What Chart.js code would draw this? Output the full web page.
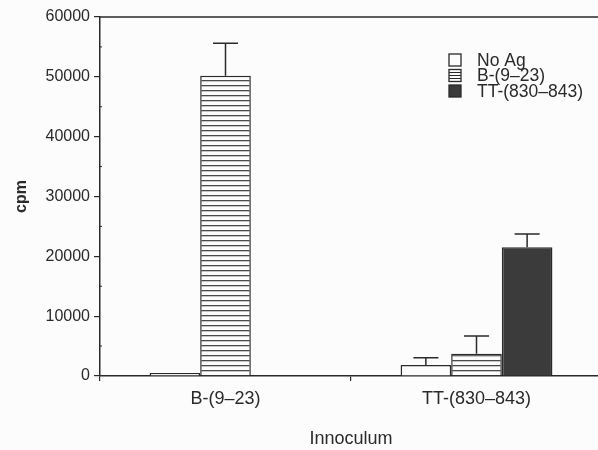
<!DOCTYPE html>
<html>
<head>
<meta charset="utf-8">
<script src="https://cdn.jsdelivr.net/npm/chart.js@4"></script>
<style>
  html, body { margin: 0; padding: 0; background: #fcfcfc; overflow: hidden; }
  #wrap { width: 600px; height: 450px; }
</style>
</head>
<body>
<div id="wrap"><canvas id="c" width="602" height="450"></canvas></div>
<script>
// ---- data ----
const categories = ['B-(9\u201323)', 'TT-(830\u2013843)'];
const seriesNames = ['No Ag', 'B-(9\u201323)', 'TT-(830\u2013843)'];
const noAg = [500, 1850];
const noAgUpper = [null, 3050];
const b923 = [50200, 3700];
const b923Upper = [55600, 6700];
const tt830 = [150, 21500];
const tt830Upper = [null, 23750];
const yTicks = [0, 10000, 20000, 30000, 40000, 50000, 60000];

const INK = '#2a2a2a';
const DARK = '#3b3b3b';
const FONT = '"Liberation Sans", Arial, sans-serif';

function hatchPattern(ctx) {
  const p = document.createElement('canvas');
  p.width = 8; p.height = 5;
  const g = p.getContext('2d');
  g.fillStyle = '#fcfcfc';
  g.fillRect(0, 0, 8, 5);
  g.fillStyle = '#4a4a4a';
  g.fillRect(0, 0, 8, 1.3);
  return ctx.createPattern(p, 'repeat');
}

const canvas = document.getElementById('c');
const ctx = canvas.getContext('2d');
const hatch = hatchPattern(ctx);

const errorBars = {
  id: 'errorBars',
  afterDatasetsDraw(chart) {
    const c = chart.ctx;
    const ys = chart.scales.y;
    c.save();
    c.strokeStyle = INK;
    c.lineWidth = 1.5;
    chart.data.datasets.forEach((ds, di) => {
      const meta = chart.getDatasetMeta(di);
      (ds.upper || []).forEach((u, i) => {
        if (u == null) return;
        const el = meta.data[i];
        const yT = ys.getPixelForValue(u);
        c.beginPath();
        c.moveTo(el.x, el.y);
        c.lineTo(el.x, yT);
        c.moveTo(el.x - 12.5, yT);
        c.lineTo(el.x + 12.5, yT);
        c.stroke();
      });
    });
    c.restore();
  }
};

const frame = {
  id: 'frame',
  afterDraw(chart) {
    const c = chart.ctx;
    const a = chart.chartArea;
    const ys = chart.scales.y;
    c.save();
    c.strokeStyle = INK;
    c.lineWidth = 1.5;
    c.beginPath();
    c.moveTo(a.left, a.top);
    c.lineTo(a.right, a.top);
    c.stroke();
    // minor ticks
    c.lineWidth = 1;
    for (let i = 0; i < yTicks.length - 1; i++) {
      const v = (yTicks[i] + yTicks[i + 1]) / 2;
      const py = ys.getPixelForValue(v);
      c.beginPath();
      c.moveTo(a.left - 1, py);
      c.lineTo(a.left + 2, py);
      c.stroke();
    }
    // legend
    const x0 = 449, size = 12, rows = [60, 75.5, 91];
    c.font = '17.5px ' + FONT;
    c.textBaseline = 'middle';
    chart.data.datasets.forEach((ds, i) => {
      const yc = rows[i];
      const yt = yc - size / 2;
      if (i === 2) {
        c.fillStyle = DARK;
        c.fillRect(x0, yt, size, size);
      } else {
        c.fillStyle = '#fcfcfc';
        c.fillRect(x0, yt, size, size);
        if (i === 1) {
          c.beginPath();
          for (let k = 1; k < 4; k++) {
            c.moveTo(x0, yt + k * 3);
            c.lineTo(x0 + size, yt + k * 3);
          }
          c.lineWidth = 1;
          c.strokeStyle = INK;
          c.stroke();
        }
      }
      c.lineWidth = 1.3;
      c.strokeStyle = INK;
      c.strokeRect(x0, yt, size, size);
      c.fillStyle = INK;
      c.fillText(ds.label, 477, yc + 1);
    });
    c.restore();
  }
};

new Chart(canvas, {
  type: 'bar',
  data: {
    labels: categories,
    datasets: [
      { label: seriesNames[0], data: noAg, upper: noAgUpper, backgroundColor: '#fcfcfc' },
      { label: seriesNames[1], data: b923, upper: b923Upper, backgroundColor: hatch },
      { label: seriesNames[2], data: tt830, upper: tt830Upper, backgroundColor: DARK }
    ].map(d => Object.assign(d, {
      borderColor: INK, borderWidth: 1.5, categoryPercentage: 0.605, barPercentage: 1
    }))
  },
  plugins: [errorBars, frame],
  options: {
    responsive: false,
    animation: false,
    events: [],
    layout: { padding: { top: 17, left: 0, right: 0, bottom: 0 } },
    plugins: { legend: { display: false }, tooltip: { enabled: false } },
    scales: {
      x: {
        grid: { display: true, drawOnChartArea: false, offset: true, tickLength: 5, color: INK, lineWidth: 1.2 },
        border: { display: true, color: INK, width: 1.5 },
        ticks: { color: INK, padding: 7, font: { family: FONT, size: 18 } },
        title: { display: true, text: 'Innoculum', color: INK, padding: 0,
                 font: { family: FONT, size: 18 } },
        afterFit(s) { s.height = 74; }
      },
      y: {
        min: 0, max: 60000,
        afterBuildTicks(s) { s.ticks = yTicks.map(v => ({ value: v })); },
        grid: { display: true, drawOnChartArea: false, tickLength: 6, color: INK, lineWidth: 1.2 },
        border: { display: true, color: INK, width: 1.5 },
        ticks: { color: INK, padding: 4, font: { family: FONT, size: 16 },
                 callback: v => String(v) },
        title: { display: true, text: 'cpm', color: INK, padding: { top: 12, bottom: 0 },
                 font: { family: FONT, size: 16, weight: 'bold' } },
        afterFit(s) { s.width = 100; }
      }
    }
  }
});
</script>
</body>
</html>
